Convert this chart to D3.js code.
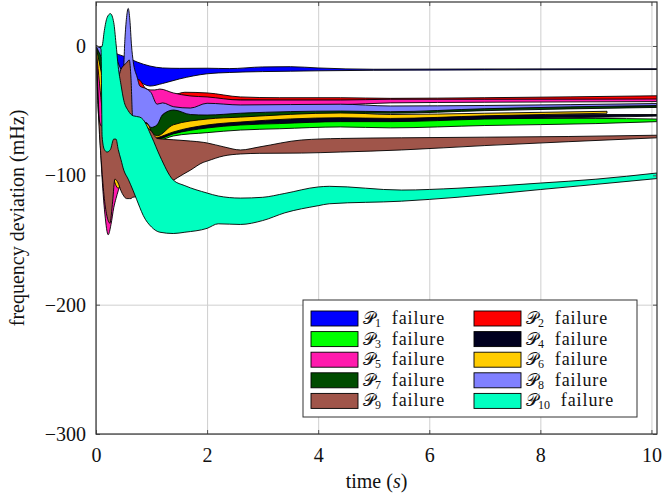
<!DOCTYPE html>
<html>
<head>
<meta charset="utf-8">
<script src="https://cdn.jsdelivr.net/npm/d3@7"></script>
<style>
  body { margin: 0; background: #fff; }
  svg text { font-family: "Liberation Serif", "Times New Roman", serif; fill: #111; }
</style>
</head>
<body>
<svg id="chart" width="662" height="497"></svg>
<script>
// Envelope (min / max) of the frequency deviation after each unit failure, in mHz.
const p1Time = [0, 0.2, 0.4, 0.5, 0.74, 0.97, 1.2, 1.5, 2.0, 2.4, 3.0, 3.5, 4.0, 5.0, 7.0, 10.1];
const p1Max  = [0, -3, -6.5, -8, -12.4, -15.5, -17, -17.3, -17.2, -17.5, -16.2, -16, -17, -18, -17.8, -17.6];
const p1Min  = [0, -15, -25, -27, -27.5, -31, -29, -25.5, -21.5, -20.5, -19.8, -19.5, -19.2, -18.8, -18.5, -18.2];

const p2Time = [0, 0.3, 0.4, 0.5, 0.6, 0.7, 0.79, 0.9, 1.1, 1.4, 1.6, 2.0, 2.6, 3.3, 4.4, 5.3, 7.0, 10.1];
const p2Max  = [0, -10, -18, -25, -22, -25, -26.5, -33, -35.5, -37.5, -35.8, -36.3, -39.4, -40, -40, -40.5, -40, -38.5];
const p2Min  = [0, -25, -30, -35, -35, -33, -33, -38, -42, -43, -43, -42, -41.8, -42, -42, -42.5, -42, -41.5];

const p3Time = [0, 0.3, 0.6, 0.9, 1.15, 1.39, 2.0, 2.6, 3.3, 4.4, 5.3, 7.0, 9.0, 10.1];
const p3Max  = [0, -20, -45, -62, -64, -65, -61, -59, -58, -57, -57, -56, -56, -56.5];
const p3Min  = [0, -50, -75, -72, -72.5, -69.6, -67, -65, -64, -62.6, -63.3, -61.5, -60, -58.5];

const p4Time = [0, 0.3, 0.5, 0.8, 1.1, 1.39, 2.0, 2.6, 3.3, 4.4, 5.3, 7.0, 9.2, 10.1];
const p4Max  = [0, -25, -40, -55, -66, -62, -58, -57, -56, -54, -54, -53.5, -53, -53];
const p4Min  = [0, -60, -80, -72, -72, -68, -63.4, -61.1, -60, -58.5, -58.5, -56.5, -55, -54.2];

const p5Time = [0, 0.05, 0.1, 0.16, 0.22, 0.27, 0.32, 0.36, 0.4, 0.5, 0.6, 0.79, 0.97, 1.06, 1.15, 1.39, 1.69, 2.0, 2.6, 4.4, 5.3, 7.0, 10.1];
const p5Max  = [0, -0.5, -1, -10, -15, -18, -20, -20, -22, -24, -25, -32.5, -34, -34, -33.3, -36.3, -38.6, -39.4, -41.8, -41.8, -41.2, -41.2, -41];
const p5Min  = [0, -50, -95, -130, -146, -138, -125, -118, -112, -100, -85, -62, -55, -52, -50, -48, -49, -47, -46.5, -45.5, -44, -43.5, -43];

const p6Time = [0, 0.2, 0.3, 0.4, 0.5, 0.7, 1.0, 1.1, 1.39, 2.0, 2.6, 4.4, 5.3, 7.0, 9.2];
const p6Max  = [0, -20, -30, -45, -50, -55, -62, -64, -59, -55, -53.5, -51.5, -53, -52, -50.5];
const p6Min  = [0, -80, -100, -110, -100, -80, -72, -71, -66.5, -61.1, -58.8, -55.5, -56, -54, -52];

const p7Time = [0, 0.3, 0.6, 0.9, 1.0, 1.1, 1.39, 2.0, 2.6, 4.4, 5.3, 7.0, 10.1];
const p7Max  = [0, -20, -30, -50, -58, -56, -49, -52, -50.5, -49, -49, -47.5, -46.3];
const p7Min  = [0, -50, -60, -58, -66, -69.5, -61, -56.5, -55, -51.8, -52, -50, -47.5];

const p8Time = [0, 0.3, 0.45, 0.49, 0.52, 0.55, 0.58, 0.61, 0.64, 0.67, 0.74, 0.79, 0.9, 0.99, 1.1, 1.2, 1.4, 1.7, 2.0, 2.6, 4.4, 5.3, 7.0, 10.1];
const p8Max  = [0, -5, -18, -21, 5, 22, 29, 20, 0, -12, -24, -31, -33, -36, -45, -44, -47, -48, -44.3, -45.6, -45, -46.4, -46, -44.5];
const p8Min  = [0, -30, -50, -55, -55, -55, -55, -58, -60, -62, -63, -63, -59, -63, -61, -53, -49.5, -53, -53.4, -52, -50.3, -50.8, -48.5, -46];

const p9Time = [0, 0.05, 0.1, 0.15, 0.2, 0.25, 0.3, 0.34, 0.4, 0.45, 0.5, 0.55, 0.6, 0.63, 0.66, 0.79, 0.9, 1.0, 1.1, 1.2, 1.39, 1.46, 1.7, 1.93, 2.0, 2.3, 2.6, 2.95, 3.7, 4.4, 5.5, 7.0, 8.5, 10.1];
const p9Max  = [0, -55, -62, -58, -48, -40, -35, -30, -25, -18, -15, -13, -10.8, -25, -55, -57, -62, -66, -71.5, -72, -72.5, -72.7, -73.5, -74.5, -75, -78, -80.4, -78, -72.7, -71.5, -71, -70.5, -70, -69];
const p9Min  = [0, -58, -92, -118, -132, -137, -120, -103, -106, -112, -116, -118, -118, -118, -117, -116, -114, -112, -110, -108, -104, -102, -96, -90, -89, -85, -83.5, -83, -82.8, -82, -80.4, -77, -74, -71];

const p10Time = [0, 0.09, 0.11, 0.15, 0.2, 0.26, 0.32, 0.36, 0.4, 0.45, 0.5, 0.58, 0.67, 0.79, 0.85, 1.0, 1.15, 1.39, 1.6, 2.0, 2.2, 2.6, 3.0, 3.4, 4.0, 4.2, 5.5, 6.5, 8.0, 9.0, 10.1];
const p10Max  = [0, -1, 0, 12, 22, 25, 18, 2, -16, -30, -42, -50, -54, -55, -57, -70, -85, -103.6, -108, -113.7, -116, -117.6, -117, -114, -109, -108.5, -111.4, -110, -106, -103, -98.2];
const p10Min  = [0, -2, -70, -80, -82, -80, -72, -72, -80, -88, -96, -103, -112, -125, -131, -140, -144, -145, -144, -141, -137.5, -138, -135, -129, -123.5, -122, -120, -117, -111, -107, -102.5];

const seriesIndex  = ["1", "2", "3", "4", "5", "6", "7", "8", "9", "10"];
const seriesColors = ["#0000ff", "#ff0000", "#00ff00", "#000020", "#ff1aad",
                      "#ffcc00", "#004c00", "#8080ff", "#a0554a", "#00ffc0"];
const seriesTimes = [p1Time, p2Time, p3Time, p4Time, p5Time, p6Time, p7Time, p8Time, p9Time, p10Time];
const seriesMins  = [p1Min, p2Min, p3Min, p4Min, p5Min, p6Min, p7Min, p8Min, p9Min, p10Min];
const seriesMaxs  = [p1Max, p2Max, p3Max, p4Max, p5Max, p6Max, p7Max, p8Max, p9Max, p10Max];

const xTicks = [0, 2, 4, 6, 8, 10];
const yTicks = [0, -100, -200, -300];

const serif = "'Liberation Serif', 'Times New Roman', serif";
const fontSize = 20;

const svg = d3.select("#chart");
const plotLeft = 96, plotRight = 657, plotTop = 2, plotBottom = 434;

const x = d3.scaleLinear().domain([0, 10.1]).range([plotLeft, plotRight]);
const y = d3.scaleLinear().domain([-300, 34]).range([plotBottom, plotTop]);

svg.append("defs").append("clipPath").attr("id", "plotClip")
  .append("rect").attr("x", plotLeft).attr("y", plotTop)
  .attr("width", plotRight - plotLeft).attr("height", plotBottom - plotTop);

// grid
const grid = svg.append("g").attr("class", "grid");
grid.append("g").attr("transform", `translate(0,${plotBottom})`)
  .call(d3.axisBottom(x).tickValues(xTicks).tickSize(-(plotBottom - plotTop)).tickFormat(""))
  .call(g => g.select(".domain").remove())
  .call(g => g.selectAll("line").attr("stroke", "#cfcfcf").attr("stroke-width", 1));
grid.append("g").attr("transform", `translate(${plotLeft},0)`)
  .call(d3.axisLeft(y).tickValues(yTicks).tickSize(-(plotRight - plotLeft)).tickFormat(""))
  .call(g => g.select(".domain").remove())
  .call(g => g.selectAll("line").attr("stroke", "#cfcfcf").attr("stroke-width", 1));

// bands
const area = d3.area()
  .x(d => x(d.t))
  .y0(d => y(d.lo))
  .y1(d => y(d.hi))
  .curve(d3.curveMonotoneX);

const series = seriesIndex.map((k, i) => ({
  key: k,
  color: seriesColors[i],
  values: seriesTimes[i].map((t, j) => ({ t: t, lo: seriesMins[i][j], hi: seriesMaxs[i][j] }))
}));

svg.append("g").attr("clip-path", "url(#plotClip)")
  .selectAll("path").data(series).join("path")
  .attr("d", d => area(d.values))
  .attr("fill", d => d.color)
  .attr("stroke", "#000")
  .attr("stroke-width", 0.9)
  .attr("stroke-linejoin", "round");

// axes: labelled bottom/left, inward ticks on all sides
const tickColor = "#555";
const axB = svg.append("g").attr("transform", `translate(0,${plotBottom})`)
  .call(d3.axisBottom(x).tickValues(xTicks).tickSize(-4).tickPadding(14).tickFormat(d3.format("d")));
const axL = svg.append("g").attr("transform", `translate(${plotLeft},0)`)
  .call(d3.axisLeft(y).tickValues(yTicks).tickSize(-4).tickPadding(10).tickFormat(d3.format("d")));
const axT = svg.append("g").attr("transform", `translate(0,${plotTop})`)
  .call(d3.axisTop(x).tickValues(xTicks).tickSize(-4).tickFormat(""));
const axR = svg.append("g").attr("transform", `translate(${plotRight},0)`)
  .call(d3.axisRight(y).tickValues(yTicks).tickSize(-4).tickFormat(""));
[axB, axL, axT, axR].forEach(a => {
  a.attr("font-family", serif).attr("font-size", fontSize);
  a.select(".domain").remove();
  a.selectAll(".tick line").attr("stroke", tickColor).attr("stroke-width", 1);
  a.selectAll("text").attr("fill", "#111").attr("font-family", serif).attr("font-size", fontSize);
});

svg.append("rect")
  .attr("x", plotLeft).attr("y", plotTop)
  .attr("width", plotRight - plotLeft).attr("height", plotBottom - plotTop)
  .attr("fill", "none").attr("stroke", "#333").attr("stroke-width", 1.2);

// axis titles
const xTitle = svg.append("text")
  .attr("x", (plotLeft + plotRight) / 2).attr("y", 488)
  .attr("text-anchor", "middle").attr("font-family", serif).attr("font-size", fontSize);
xTitle.append("tspan").text("time (");
xTitle.append("tspan").attr("font-style", "italic").text("s");
xTitle.append("tspan").text(")");

svg.append("text")
  .attr("transform", `translate(24,${(plotTop + plotBottom) / 2}) rotate(-90)`)
  .attr("text-anchor", "middle").attr("font-family", serif).attr("font-size", fontSize)
  .text("frequency deviation (mHz)");

// legend
const lg = svg.append("g");
lg.append("rect").attr("x", 303).attr("y", 300).attr("width", 334).attr("height", 117)
  .attr("fill", "#fff").attr("stroke", "#333").attr("stroke-width", 1);
const colX = [311, 474];
series.forEach((s, i) => {
  const col = i % 2, row = Math.floor(i / 2);
  const cy = 318.5 + row * 20.6;
  const g = lg.append("g");
  g.append("rect").attr("x", colX[col]).attr("y", cy - 7.5)
    .attr("width", 47).attr("height", 15)
    .attr("fill", s.color).attr("stroke", "#000").attr("stroke-width", 0.9);
  const t = g.append("text").attr("x", colX[col] + 52).attr("y", cy + 5.5)
    .attr("font-family", serif).attr("font-size", 18);
  t.append("tspan").attr("font-family", "'DejaVu Sans', 'Noto Sans', serif").attr("font-size", 17).text("𝒫");
  t.append("tspan").attr("font-size", 12).attr("dy", 3).text(s.key);
  t.append("tspan").attr("dy", -3).attr("letter-spacing", 0.9).text("\u00a0\u00a0failure");
});
</script>
</body>
</html>
